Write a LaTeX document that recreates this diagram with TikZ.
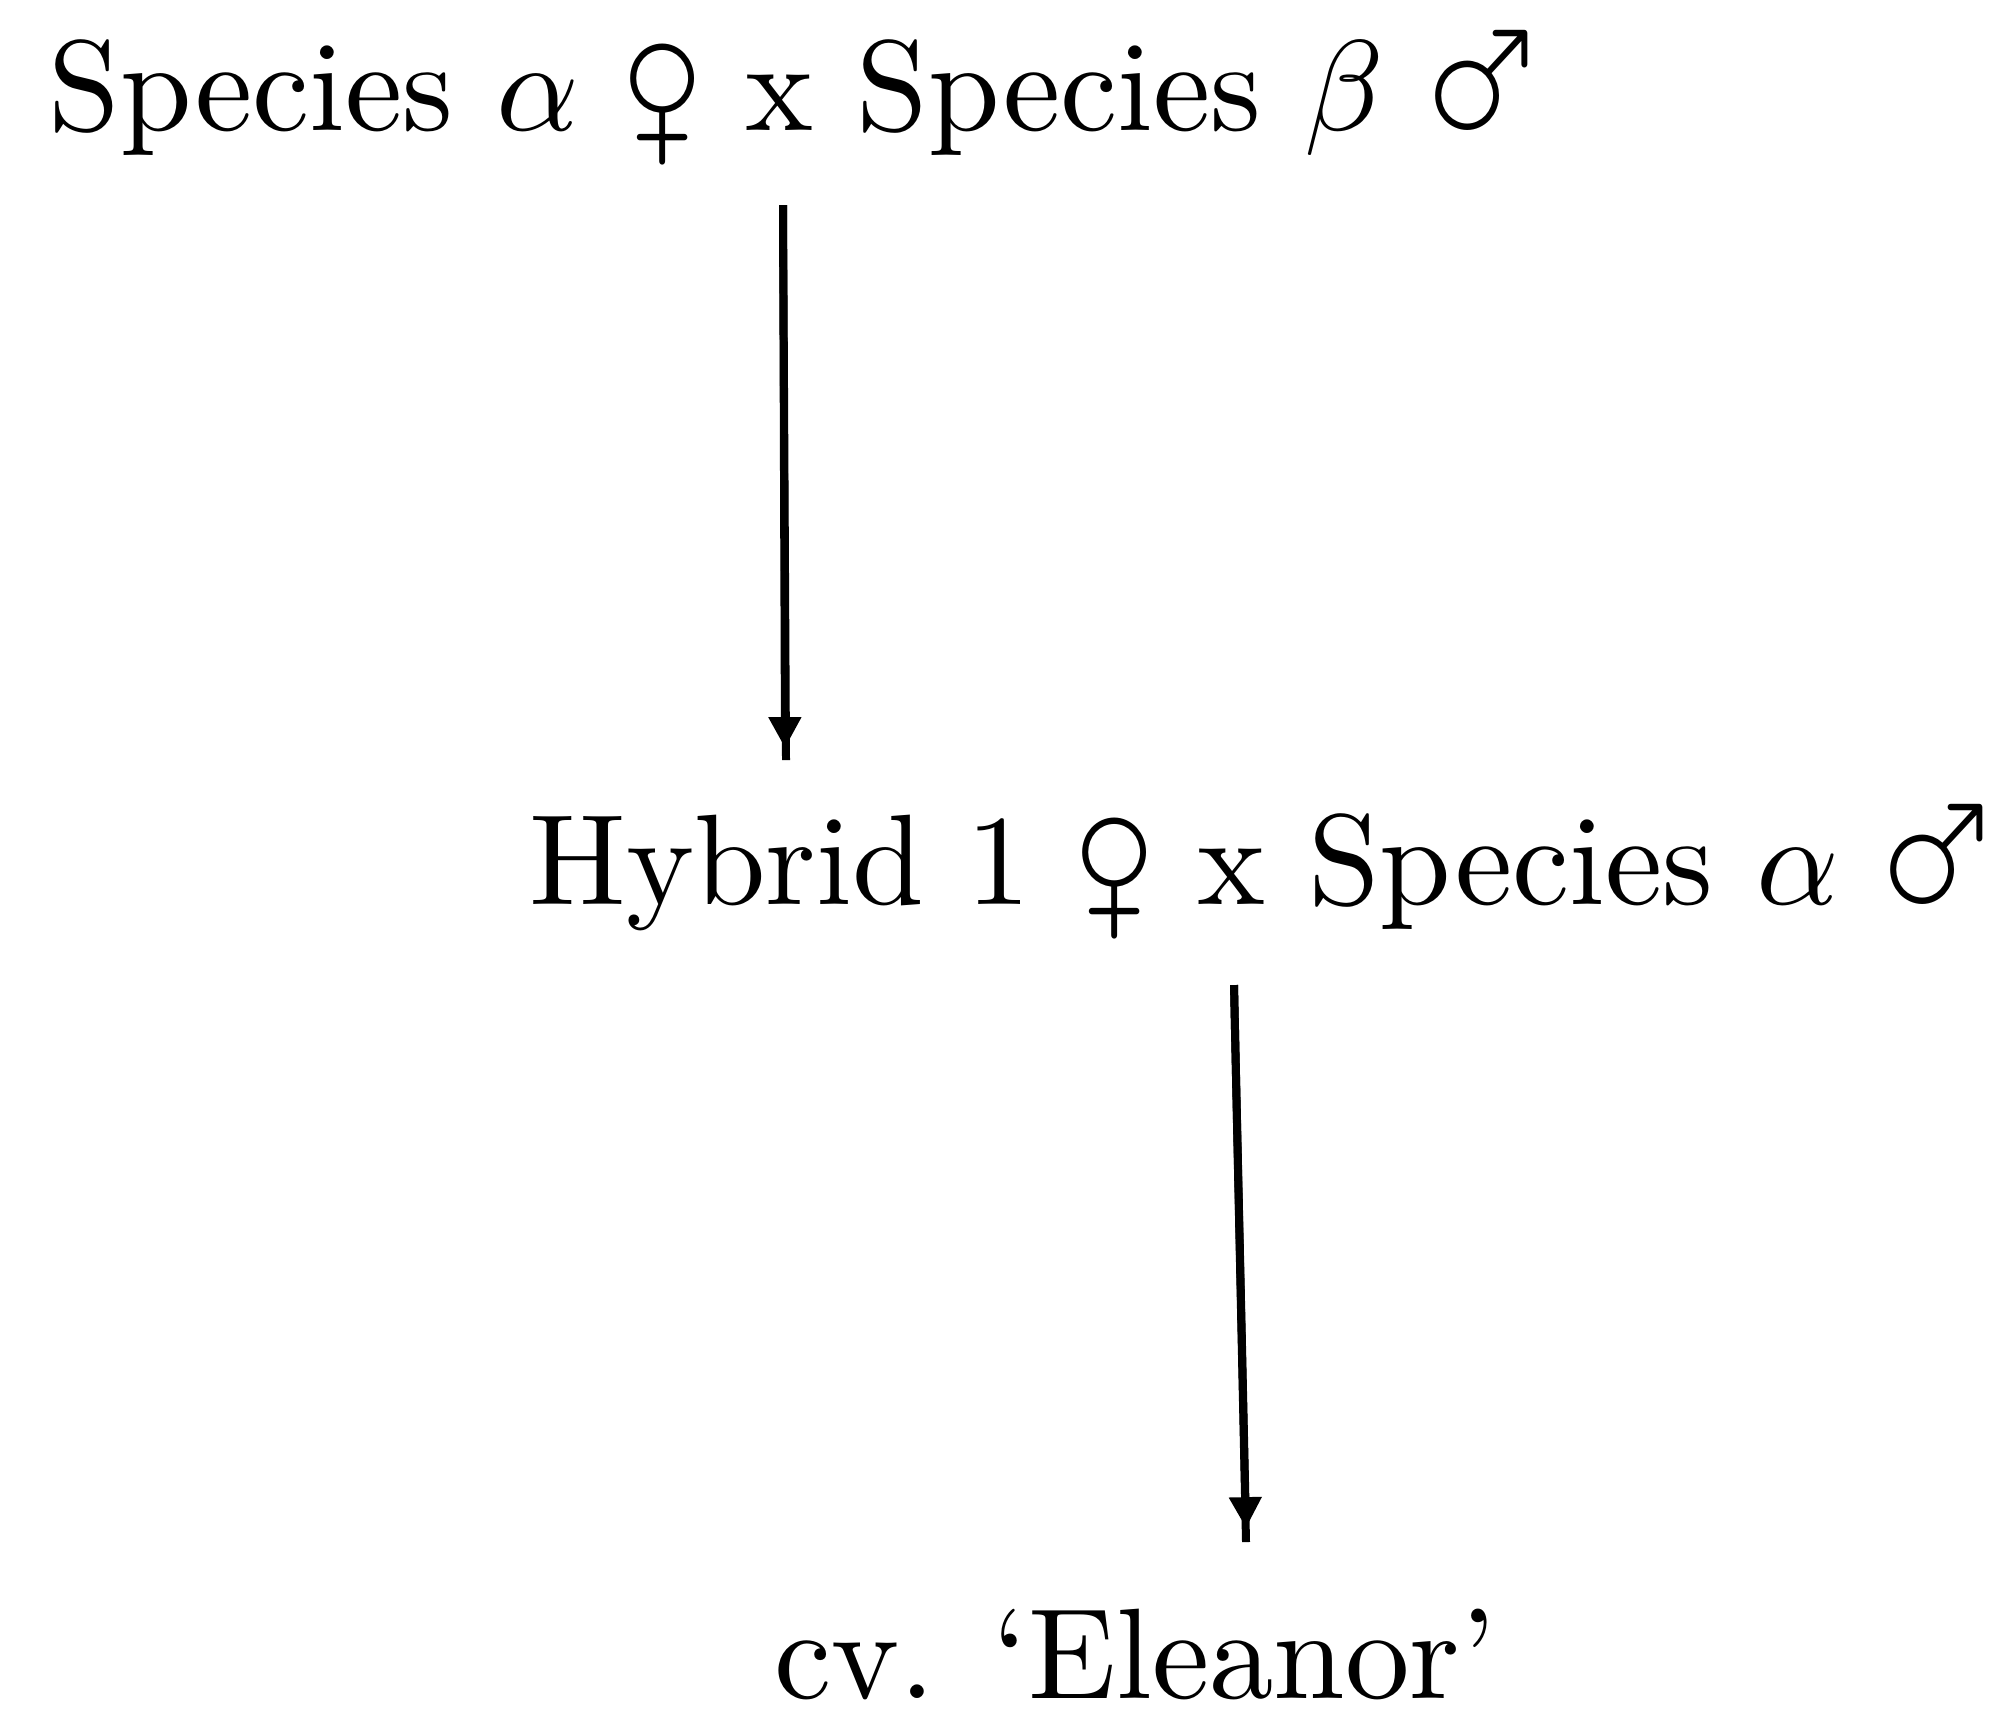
\documentclass[tikz,border=0pt]{standalone}
\usepackage{wasysym}
\usepackage{graphicx}
\usetikzlibrary{arrows.meta}
\newcommand{\fem}{\scalebox{1.15}[1.25]{\female}}
\newcommand{\mal}{\scalebox{1.15}[1.25]{\male}}
\begin{document}
\begin{tikzpicture}[x=0.0776pt,y=-0.0776pt,
  lbl/.style={inner sep=0pt,anchor=base west,font=\normalsize},
  stem/.style={line width=0.62pt,line cap=butt},
  conn/.style={line width=0.62pt,-{Triangle[length=2.4pt,width=2.4pt]}}]
\useasboundingbox (0,0) rectangle (1993,1715);
\node[lbl] (l1) at (46,130) {Species $\alpha$ \fem{} x Species $\beta$ \mal};
\node[lbl] (l2) at (527,904) {Hybrid 1 \fem{} x Species $\alpha$ \mal};
\node[lbl] (l3) at (772,1698) {cv. `Eleanor'};
\coordinate (a1s) at (783,205);
\coordinate (a1t) at (785,748);
\coordinate (a1e) at (786,760);
\coordinate (a2s) at (1234,985);
\coordinate (a2t) at (1246,1528);
\coordinate (a2e) at (1246,1542);
\draw[stem] (a1s) -- (a1e);
\draw[conn] (a1s) -- (a1t);
\draw[stem] (a2s) -- (a2e);
\draw[conn] (a2s) -- (a2t);
\end{tikzpicture}
\end{document}
